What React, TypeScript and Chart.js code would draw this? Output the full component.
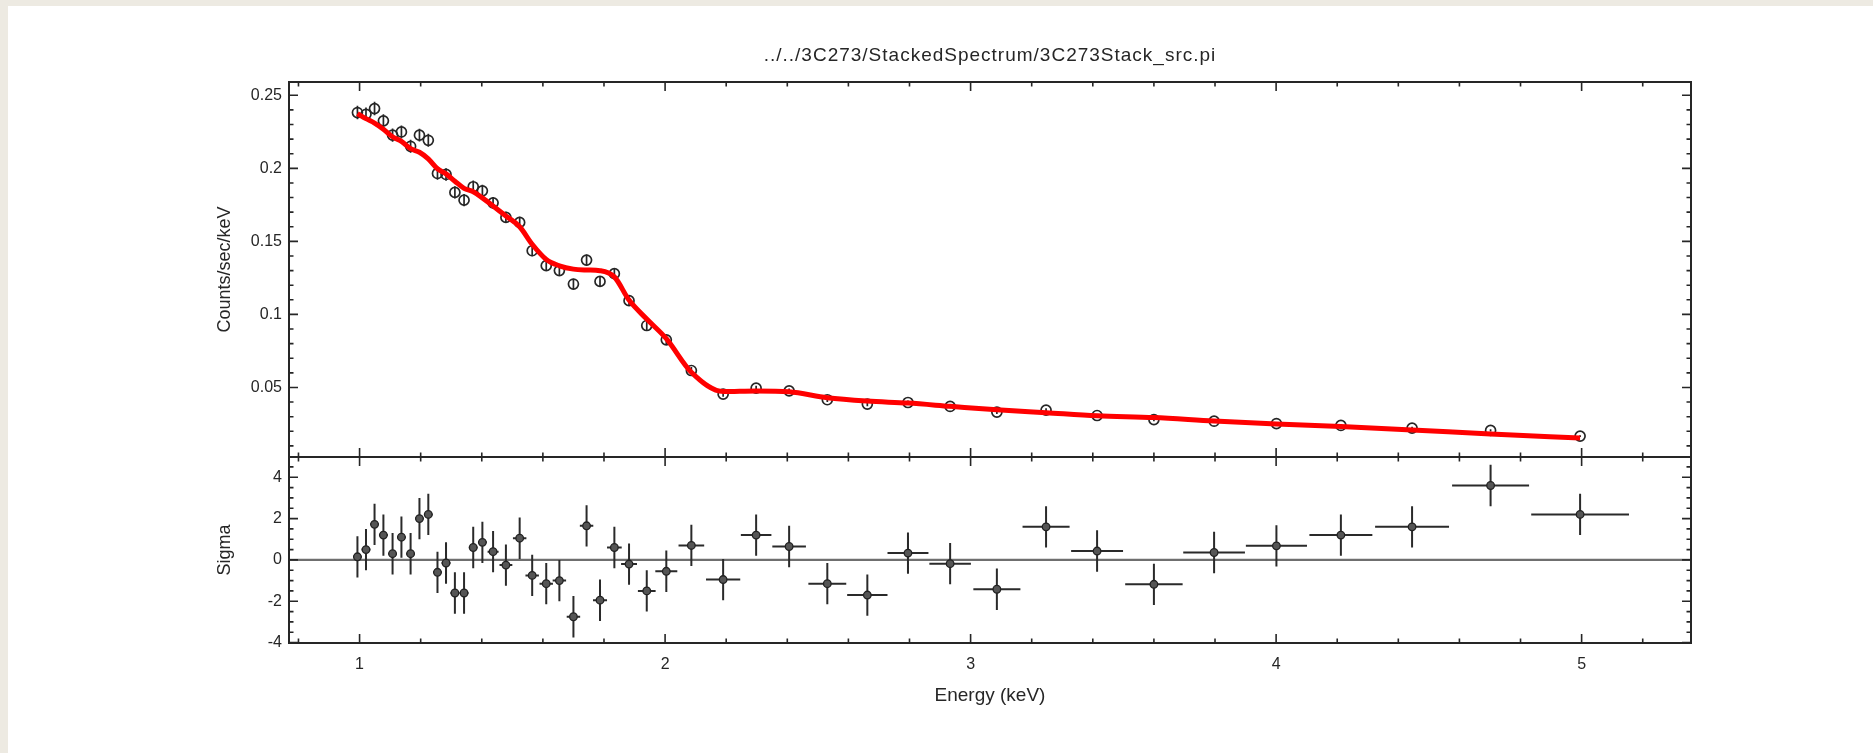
import React, { useEffect, useRef } from 'react';
import { Chart, registerables } from 'chart.js';

Chart.register(...registerables);

// ---------------- data ----------------
const plotTitle = '../../3C273/StackedSpectrum/3C273Stack_src.pi';
const xTitle = 'Energy (keV)';
const topYTitle = 'Counts/sec/keV';
const bottomYTitle = 'Sigma';

// bin centres (keV)
const energyKeV = [
  0.993, 1.021, 1.049, 1.078, 1.108, 1.137, 1.167, 1.196, 1.225, 1.255,
  1.283, 1.312, 1.342, 1.372, 1.402, 1.437, 1.479, 1.524, 1.565, 1.611,
  1.654, 1.700, 1.743, 1.787, 1.834, 1.882, 1.940, 2.004, 2.086, 2.190,
  2.298, 2.406, 2.531, 2.662, 2.795, 2.933, 3.086, 3.247, 3.414, 3.600,
  3.797, 4.001, 4.212, 4.445, 4.702, 4.995,
];

// bin half widths (keV)
const binHalfWidth = [
  0.0145, 0.0145, 0.0145, 0.0145, 0.0145, 0.0145, 0.0145, 0.0145, 0.0145, 0.0145,
  0.0145, 0.0145, 0.0145, 0.0145, 0.0145, 0.018, 0.021, 0.022, 0.022, 0.022,
  0.022, 0.022, 0.022, 0.023, 0.024, 0.026, 0.029, 0.036, 0.042, 0.056,
  0.050, 0.055, 0.062, 0.066, 0.067, 0.068, 0.077, 0.077, 0.085, 0.094,
  0.101, 0.100, 0.103, 0.121, 0.126, 0.160,
];

// observed rate (counts/sec/keV)
const countRate = [
  0.2382, 0.2370, 0.2409, 0.2325, 0.2227, 0.2249, 0.2151, 0.2227, 0.2192, 0.1965,
  0.1958, 0.1835, 0.1782, 0.1874, 0.1846, 0.1764, 0.1664, 0.1630, 0.1436, 0.1334,
  0.1300, 0.1208, 0.1372, 0.1226, 0.1279, 0.1094, 0.0924, 0.0826, 0.0616, 0.0454,
  0.0495, 0.0477, 0.0416, 0.0386, 0.0397, 0.0370, 0.0331, 0.0345, 0.0308, 0.0280,
  0.0269, 0.0253, 0.0240, 0.0222, 0.0206, 0.0167,
];

// 1-sigma error on rate
const countRateErr = [
  0.0046, 0.0046, 0.0046, 0.0045, 0.0045, 0.0045, 0.0044, 0.0044, 0.0044, 0.0043,
  0.0043, 0.0042, 0.0042, 0.0042, 0.0041, 0.0040, 0.0039, 0.0039, 0.0037, 0.0036,
  0.0036, 0.0037, 0.0038, 0.0037, 0.0035, 0.0033, 0.0032, 0.0029, 0.0024, 0.0018,
  0.0017, 0.0016, 0.0015, 0.0014, 0.0013, 0.0013, 0.0012, 0.0012, 0.0011, 0.0011,
  0.0010, 0.0010, 0.0009, 0.0009, 0.0008, 0.0006,
];

// folded model (red curve)
const modelRate = [
  0.2375, 0.2340, 0.2310, 0.2268, 0.2216, 0.2185, 0.2135, 0.2110, 0.2065, 0.1997,
  0.1962, 0.1912, 0.1863, 0.1840, 0.1798, 0.1742, 0.1674, 0.1600, 0.1480, 0.1376,
  0.1333, 0.1310, 0.1304, 0.1299, 0.1257, 0.1098, 0.0968, 0.0834, 0.0604, 0.0472,
  0.0476, 0.0470, 0.0430, 0.0407, 0.0393, 0.0371, 0.0347, 0.0327, 0.0306, 0.0294,
  0.0270, 0.0250, 0.0232, 0.0209, 0.0181, 0.0154,
];

// residuals (sigma)
const residualSigma = [
  0.15, 0.5, 1.72, 1.2, 0.3, 1.1, 0.3, 2.0, 2.2, -0.6,
  -0.15, -1.6, -1.6, 0.6, 0.85, 0.4, -0.25, 1.05, -0.75, -1.15,
  -1.0, -2.75, 1.65, -1.95, 0.6, -0.2, -1.5, -0.55, 0.7, -0.95,
  1.2, 0.65, -1.15, -1.7, 0.33, -0.18, -1.42, 1.6, 0.43, -1.18,
  0.36, 0.68, 1.2, 1.6, 3.6, 2.2,
];
const residualErr = [
  1, 1, 1, 1, 1, 1, 1, 1, 1, 1, 1, 1, 1, 1, 1, 1, 1, 1, 1, 1, 1, 1, 1,
  1, 1, 1, 1, 1, 1, 1, 1, 1, 1, 1, 1, 1, 1, 1, 1, 1, 1, 1, 1, 1, 1, 1,
];

// axes
const X_MIN = 0.769;
const X_MAX = 5.358;
const xMajorTicks = [1, 2, 3, 4, 5];
const xMinorStep = 0.2;
const topY_MIN = 0.0024;
const topY_MAX = 0.2591;
const topYTicks = [0.05, 0.1, 0.15, 0.2, 0.25];
const topYMinorStep = 0.01;
const botY_MIN = -4.02;
const botY_MAX = 4.98;
const botYTicks = [-4, -2, 0, 2, 4];
const botYMinorStep = 0.5;

// ---------------- styling ----------------
const FONT = "'Liberation Sans', Arial, Helvetica, sans-serif";
const INK = '#262626';
const W = 1873;
const H = 753;
const PAD_LEFT = 210;
const Y_AXIS_W = 79;
const PAD_RIGHT = 182;
const TOP_PLOT_TOP = 82;
const SPLIT_Y = 457;
const BOTTOM_PLOT_BOTTOM = 643;
const X_AXIS_H = 68;

function stepTicks(min: number, max: number, step: number): number[] {
  const out: number[] = [];
  const start = Math.ceil(min / step - 1e-9);
  const end = Math.floor(max / step + 1e-9);
  for (let i = start; i <= end; i++) out.push(+(i * step).toFixed(6));
  return out;
}
const isMajor = (arr: number[], v: number) => arr.some((m) => Math.abs(m - v) < 1e-6);

function framePlugin(id: string, yMin: number, yMax: number, yStep: number, yMajors: number[]) {
  return {
    id,
    afterDatasetsDraw(chart: any) {
      const { ctx, chartArea: a } = chart;
      const xs = chart.scales.x;
      const ys = chart.scales.y;
      ctx.save();
      ctx.strokeStyle = INK;
      ctx.lineWidth = 1.6;
      ctx.beginPath();
      for (const v of stepTicks(X_MIN, X_MAX, xMinorStep)) {
        const px = xs.getPixelForValue(v);
        const len = isMajor(xMajorTicks, v) ? 9 : 4.5;
        ctx.moveTo(px, a.top);
        ctx.lineTo(px, a.top + len);
        ctx.moveTo(px, a.bottom);
        ctx.lineTo(px, a.bottom - len);
      }
      for (const v of stepTicks(yMin, yMax, yStep)) {
        const py = ys.getPixelForValue(v);
        const len = isMajor(yMajors, v) ? 9 : 4.5;
        ctx.moveTo(a.left, py);
        ctx.lineTo(a.left + len, py);
        ctx.moveTo(a.right, py);
        ctx.lineTo(a.right - len, py);
      }
      ctx.stroke();
      ctx.lineWidth = 2;
      ctx.strokeRect(a.left, a.top, a.right - a.left, a.bottom - a.top);
      ctx.restore();
    },
  };
}

const topErrorBars = {
  id: 'topErrorBars',
  beforeDatasetsDraw(chart: any) {
    const { ctx, chartArea: a } = chart;
    const xs = chart.scales.x;
    const ys = chart.scales.y;
    ctx.save();
    ctx.beginPath();
    ctx.rect(a.left, a.top, a.right - a.left, a.bottom - a.top);
    ctx.clip();
    ctx.strokeStyle = INK;
    ctx.lineWidth = 1.7;
    ctx.beginPath();
    energyKeV.forEach((e, i) => {
      const px = xs.getPixelForValue(e);
      ctx.moveTo(px, ys.getPixelForValue(countRate[i] - countRateErr[i]));
      ctx.lineTo(px, ys.getPixelForValue(countRate[i] + countRateErr[i]));
    });
    ctx.stroke();
    ctx.restore();
  },
};

const titlePlugin = {
  id: 'plotTitle',
  afterDraw(chart: any) {
    const { ctx, chartArea: a } = chart;
    ctx.save();
    ctx.fillStyle = INK;
    ctx.font = `19px ${FONT}`;
    try {
      (ctx as any).letterSpacing = '1px';
    } catch (e) {}
    ctx.textAlign = 'center';
    ctx.textBaseline = 'middle';
    ctx.fillText(plotTitle, (a.left + a.right) / 2, 56);
    ctx.restore();
  },
};

const bottomDecor = {
  id: 'bottomDecor',
  beforeDatasetsDraw(chart: any) {
    const { ctx, chartArea: a } = chart;
    const xs = chart.scales.x;
    const ys = chart.scales.y;
    ctx.save();
    ctx.beginPath();
    ctx.rect(a.left, a.top, a.right - a.left, a.bottom - a.top);
    ctx.clip();
    // zero line
    ctx.strokeStyle = '#6f6f6f';
    ctx.lineWidth = 2.2;
    ctx.beginPath();
    const y0 = ys.getPixelForValue(0);
    ctx.moveTo(a.left, y0);
    ctx.lineTo(a.right, y0);
    ctx.stroke();
    // error crosses
    ctx.strokeStyle = '#2a2a2a';
    ctx.lineWidth = 2;
    ctx.beginPath();
    energyKeV.forEach((e, i) => {
      const px = xs.getPixelForValue(e);
      const py = ys.getPixelForValue(residualSigma[i]);
      ctx.moveTo(xs.getPixelForValue(e - binHalfWidth[i]), py);
      ctx.lineTo(xs.getPixelForValue(e + binHalfWidth[i]), py);
      ctx.moveTo(px, ys.getPixelForValue(residualSigma[i] - residualErr[i]));
      ctx.lineTo(px, ys.getPixelForValue(residualSigma[i] + residualErr[i]));
    });
    ctx.stroke();
    ctx.restore();
  },
};

export default function App() {
  const topRef = useRef<HTMLCanvasElement | null>(null);
  const botRef = useRef<HTMLCanvasElement | null>(null);

  useEffect(() => {
    if (!topRef.current || !botRef.current) return;

    const tickFont = { family: FONT, size: 16 };

    const topChart = new Chart(topRef.current, {
      type: 'scatter',
      data: {
        datasets: [
          {
            type: 'line',
            label: 'model',
            data: energyKeV.map((e, i) => ({ x: e, y: modelRate[i] })),
            borderColor: '#ff0000',
            borderWidth: 5,
            pointRadius: 0,
            cubicInterpolationMode: 'monotone',
            fill: false,
            order: 0,
          } as any,
          {
            type: 'scatter',
            label: 'data',
            data: energyKeV.map((e, i) => ({ x: e, y: countRate[i] })),
            pointStyle: 'circle',
            pointRadius: 5,
            borderColor: INK,
            borderWidth: 1.7,
            backgroundColor: 'rgba(0,0,0,0)',
            order: 1,
          } as any,
        ],
      },
      options: {
        responsive: false,
        animation: false,
        events: [],
        layout: { padding: { left: PAD_LEFT, right: PAD_RIGHT, top: TOP_PLOT_TOP, bottom: H - SPLIT_Y } },
        plugins: { legend: { display: false }, tooltip: { enabled: false }, title: { display: false } },
        scales: {
          x: { type: 'linear', display: false, min: X_MIN, max: X_MAX },
          y: {
            type: 'linear',
            position: 'left',
            min: topY_MIN,
            max: topY_MAX,
            afterBuildTicks: (s: any) => {
              s.ticks = topYTicks.map((v) => ({ value: v }));
            },
            afterFit: (s: any) => {
              s.width = Y_AXIS_W;
            },
            grid: { display: false, drawTicks: false },
            border: { display: false },
            ticks: { padding: 7, autoSkip: false, color: INK, font: tickFont, callback: (v: any) => String(v) },
            title: { display: true, text: topYTitle, color: INK, font: { family: FONT, size: 18 }, padding: { top: 4, bottom: 4 } },
          },
        },
      } as any,
      plugins: [topErrorBars, framePlugin('topFrame', topY_MIN, topY_MAX, topYMinorStep, topYTicks), titlePlugin],
    });

    const botChart = new Chart(botRef.current, {
      type: 'scatter',
      data: {
        datasets: [
          {
            label: 'residuals',
            data: energyKeV.map((e, i) => ({ x: e, y: residualSigma[i] })),
            pointStyle: 'circle',
            pointRadius: 3.8,
            borderColor: '#222222',
            borderWidth: 1.3,
            backgroundColor: '#555555',
          },
        ],
      },
      options: {
        responsive: false,
        animation: false,
        events: [],
        layout: { padding: { left: PAD_LEFT, right: PAD_RIGHT, top: SPLIT_Y, bottom: H - BOTTOM_PLOT_BOTTOM - X_AXIS_H } },
        plugins: { legend: { display: false }, tooltip: { enabled: false }, title: { display: false } },
        scales: {
          x: {
            type: 'linear',
            min: X_MIN,
            max: X_MAX,
            afterBuildTicks: (s: any) => {
              s.ticks = xMajorTicks.map((v) => ({ value: v }));
            },
            afterFit: (s: any) => {
              s.height = X_AXIS_H;
            },
            grid: { display: false, drawTicks: false },
            border: { display: false },
            ticks: { padding: 12, autoSkip: false, maxRotation: 0, color: INK, font: tickFont, callback: (v: any) => String(v) },
            title: { display: true, text: xTitle, color: INK, font: { family: FONT, size: 19 }, padding: { top: 4, bottom: 4 } },
          },
          y: {
            type: 'linear',
            position: 'left',
            min: botY_MIN,
            max: botY_MAX,
            afterBuildTicks: (s: any) => {
              s.ticks = botYTicks.map((v) => ({ value: v }));
            },
            afterFit: (s: any) => {
              s.width = Y_AXIS_W;
            },
            grid: { display: false, drawTicks: false },
            border: { display: false },
            ticks: { padding: 7, autoSkip: false, color: INK, font: tickFont, callback: (v: any) => String(v) },
            title: { display: true, text: bottomYTitle, color: INK, font: { family: FONT, size: 18 }, padding: { top: 4, bottom: 4 } },
          },
        },
      } as any,
      plugins: [bottomDecor, framePlugin('botFrame', botY_MIN, botY_MAX, botYMinorStep, botYTicks)],
    });

    return () => {
      topChart.destroy();
      botChart.destroy();
    };
  }, []);

  const canvasStyle: React.CSSProperties = { position: 'absolute', left: 0, top: 0, width: W, height: H };

  return (
    <div style={{ position: 'fixed', left: 0, top: 0, width: W, height: H, background: '#edeae2', overflow: 'hidden' }}>
      <div style={{ position: 'absolute', left: 8, top: 6, right: 0, bottom: 0, background: '#ffffff' }} />
      <canvas ref={topRef} width={W} height={H} style={canvasStyle} />
      <canvas ref={botRef} width={W} height={H} style={canvasStyle} />
    </div>
  );
}
